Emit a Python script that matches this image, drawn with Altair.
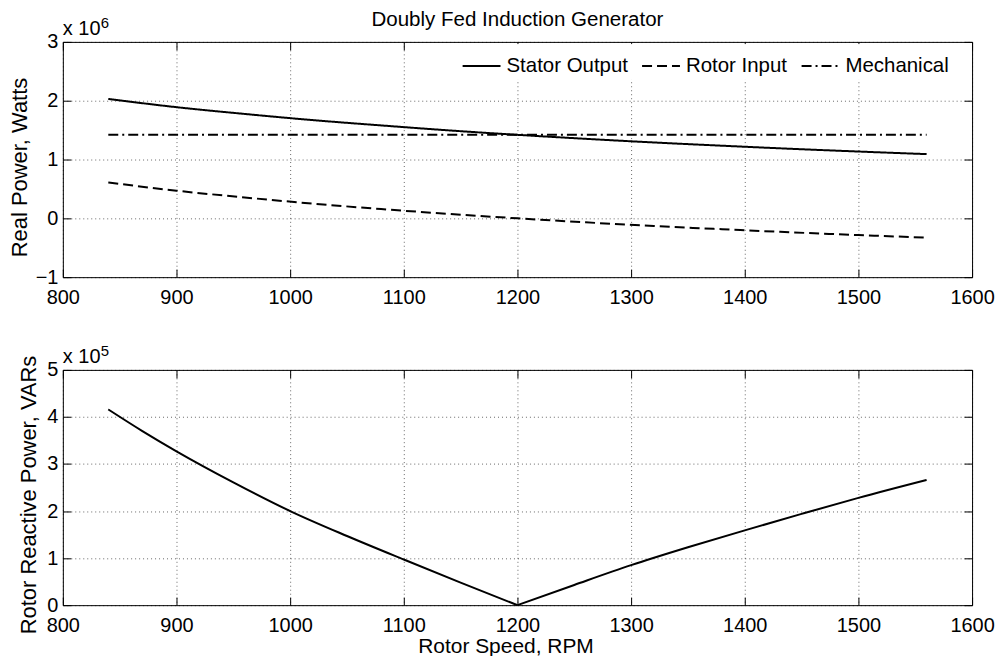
import altair as alt
import pandas as pd

# ---- data ----
rpm_real = [840, 900, 960, 1020, 1080, 1140, 1200, 1260, 1320, 1380, 1440, 1500, 1560]
stator_w = [2.03e6, 1.89e6, 1.775e6, 1.67e6, 1.58e6, 1.495e6, 1.42e6, 1.352e6, 1.29e6,
            1.235e6, 1.183e6, 1.136e6, 1.092e6]
rotor_w = [0.61e6, 0.47e6, 0.355e6, 0.25e6, 0.158e6, 0.075e6, 0.0, -0.068e6, -0.13e6,
           -0.185e6, -0.237e6, -0.284e6, -0.328e6]
mech_w = [1.42e6, 1.42e6, 1.42e6, 1.42e6, 1.42e6, 1.42e6, 1.42e6, 1.42e6, 1.42e6,
          1.42e6, 1.42e6, 1.42e6, 1.42e6]
series_names = ["Stator Output", "Rotor Input", "Mechanical"]

rpm_q_low = [840, 870, 900, 950, 1000, 1050, 1100, 1150, 1200]
q_low = [4.16e5, 3.70e5, 3.27e5, 2.61e5, 2.00e5, 1.47e5, 0.97e5, 0.48e5, 0.0]
rpm_q_high = [1200, 1250, 1300, 1350, 1400, 1450, 1500, 1560]
q_high = [0.0, 0.43e5, 0.85e5, 1.23e5, 1.59e5, 1.94e5, 2.28e5, 2.66e5]

x_ticks = [800, 900, 1000, 1100, 1200, 1300, 1400, 1500, 1600]
y_top_ticks = [-1e6, 0, 1e6, 2e6, 3e6]
y_bot_ticks = [0, 1e5, 2e5, 3e5, 4e5, 5e5]

title_text = "Doubly Fed Induction Generator"
top_ylabel = "Real Power, Watts"
bot_ylabel = "Rotor Reactive Power, VARs"
xlabel = "Rotor Speed, RPM"

rows = []
for name, vals in zip(series_names, [stator_w, rotor_w, mech_w]):
    for r, v in zip(rpm_real, vals):
        rows.append({"rpm": r, "power": v, "series": name})
df_top = pd.DataFrame(rows)
df_bot = pd.DataFrame({
    "rpm": rpm_q_low + rpm_q_high,
    "q": q_low + q_high,
    "branch": ["sub"] * len(rpm_q_low) + ["super"] * len(rpm_q_high),
})

FONT = "Liberation Sans"
W, H = 912, 236
TICK_IN = {"expr": "-8"}
GRID = dict(grid=True, gridDash=[1, 3], gridColor="#000", gridOpacity=0.6, gridWidth=1)

xscale = alt.Scale(domain=[800, 1600], nice=False, zero=False)


def x_main(title=None, tx=0, ty=0):
    kw = dict(values=x_ticks, format="d", labelFontSize=20, labelFont=FONT, labelColor="#000",
              labelPadding=18, labelFlush=False, tickSize=TICK_IN, tickColor="#000",
              domain=False, **GRID)
    if title:
        kw.update(title=title, titleFont=FONT, titleFontSize=21, titleFontWeight="normal",
                  titleColor="#000", titleX=tx, titleY=ty, titleAlign="center",
                  titleBaseline="alphabetic", titleAngle=0)
    else:
        kw.update(title=None)
    return alt.Axis(**kw)


def y_main(values, expr, title, tx, ty):
    return alt.Axis(values=values, labelExpr=expr, labelFontSize=20, labelFont=FONT,
                    labelColor="#000", labelPadding=13, labelFlush=False,
                    tickSize=TICK_IN, tickColor="#000", domain=False,
                    title=title, titleFont=FONT, titleFontSize=22, titleFontWeight="normal",
                    titleColor="#000", titleX=tx, titleY=ty, titleAngle=-90,
                    titleAlign="center", titleBaseline="alphabetic", **GRID)


def x_top():
    return alt.Axis(orient="top", values=x_ticks, labels=False, grid=False, domain=False,
                    tickSize=TICK_IN, tickColor="#000", title=None)


def y_right(values):
    return alt.Axis(orient="right", values=values, labels=False, grid=False, domain=False,
                    tickSize=TICK_IN, tickColor="#000", title=None)


def txt(s, size, dx, dy, align="left"):
    return alt.Chart(pd.DataFrame({"t": [s]})).mark_text(
        font=FONT, fontSize=size, align=align, baseline="alphabetic", color="#000"
    ).encode(text="t:N", x=alt.value(dx), y=alt.value(dy))


# ---- top panel ----
ytop_scale = alt.Scale(domain=[-1e6, 3e6], nice=False, zero=False)
dash_scale = alt.Scale(domain=series_names, range=[[1, 0], [10, 5], [10, 4, 2, 4]])

lines_top = alt.Chart(df_top).mark_line(color="#000", strokeWidth=2, interpolate="monotone").encode(
    x=alt.X("rpm:Q", scale=xscale, axis=x_main()),
    y=alt.Y("power:Q", scale=ytop_scale,
            axis=y_main(y_top_ticks, "format(datum.value/1e6, 'd')", top_ylabel, -36, 125.5)),
    strokeDash=alt.StrokeDash(
        "series:N", scale=dash_scale, sort=series_names,
        legend=alt.Legend(title=None, orient="none", legendX=398, legendY=2,
                          direction="horizontal", symbolType="stroke", symbolSize=1444,
                          symbolStrokeWidth=2, symbolStrokeColor="#000",
                          labelFont=FONT, labelFontSize=20.5, labelColor="#000",
                          labelOffset=5, columnPadding=10, padding=2,
                          fillColor="white", strokeColor="white")),
    detail="series:N",
)
frame_top = alt.Chart(df_top).mark_line(opacity=0).encode(
    x=alt.X("rpm:Q", scale=xscale, axis=x_top()),
    y=alt.Y("power:Q", scale=ytop_scale, axis=y_right(y_top_ticks)),
    detail="series:N",
)
top = alt.layer(
    lines_top, frame_top,
    txt("x 10", 20, 0, -7), txt("6", 15, 38, -14),
    txt(title_text, 20.6, W / 2, -16, align="center"),
).resolve_axis(x="independent", y="independent").properties(width=W, height=H)

# ---- bottom panel ----
ybot_scale = alt.Scale(domain=[0, 5e5], nice=False, zero=False)
line_bot = alt.Chart(df_bot).mark_line(color="#000", strokeWidth=2, interpolate="monotone").encode(
    x=alt.X("rpm:Q", scale=xscale, axis=x_main(xlabel, 444, 47)),
    y=alt.Y("q:Q", scale=ybot_scale,
            axis=y_main(y_bot_ticks, "format(datum.value/1e5, 'd')", bot_ylabel, -27, 125)),
    detail="branch:N",
)
frame_bot = alt.Chart(df_bot).mark_line(opacity=0).encode(
    x=alt.X("rpm:Q", scale=xscale, axis=x_top()),
    y=alt.Y("q:Q", scale=ybot_scale, axis=y_right(y_bot_ticks)),
    detail="branch:N",
)
bottom = alt.layer(
    line_bot, frame_bot, txt("x 10", 20, 0, -7), txt("5", 15, 38, -14),
).resolve_axis(x="independent", y="independent").properties(width=W, height=H)

chart = alt.vconcat(top, bottom, spacing=93, bounds="flush").properties(
    padding={"left": 0, "top": 0, "right": 0, "bottom": 0}, background="white"
).configure_view(stroke="#000", strokeWidth=1)

chart.save("out.html", embed_options={"renderer": "svg", "actions": False})
